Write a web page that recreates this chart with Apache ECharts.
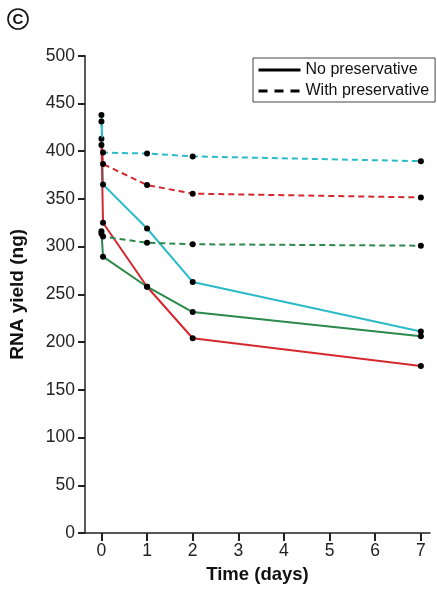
<!DOCTYPE html>
<html>
<head>
<meta charset="utf-8">
<script src="https://cdn.jsdelivr.net/npm/echarts@6/dist/echarts.min.js"></script>
<style>html,body{margin:0;padding:0;background:#fff}#c{width:437px;height:589px}</style>
</head>
<body>
<div id="c"></div>
<script>
// Time points (days); second point is ~1 hour
const times = [0, 0.035, 1, 2, 7];
const xTicks = [0, 1, 2, 3, 4, 5, 6, 7];
const cyanNoPres = [438, 365, 319, 263, 211];
const cyanWithPres = [431, 398.5, 397.5, 394.5, 389.5];
const redNoPres = [413, 325, 258, 204, 175];
const redWithPres = [406.5, 386.5, 364.5, 355.5, 351.5];
const greenNoPres = [316, 289.5, 258, 231.5, 206];
const greenWithPres = [313.5, 310.5, 304, 302.5, 301];
const legendNames = ['No preservative', 'With preservative'];

const FONT = '"Liberation Sans", Arial, Helvetica, sans-serif';
const toPairs = (vals) => vals.map((v, i) => [times[i], v]);

function mk(name, vals, color, dashed) {
  return {
    name: name, type: 'line', data: toPairs(vals),
    symbol: 'circle', symbolSize: 6, showSymbol: true,
    itemStyle: { color: '#000' },
    lineStyle: { color: color, width: 2, type: dashed ? [6, 4] : 'solid' },
    emphasis: { disabled: true }, animation: false, z: dashed ? 3 : 2
  };
}

const chart = echarts.init(document.getElementById('c'), null, { renderer: 'canvas' });
chart.setOption({
  animation: false,
  textStyle: { fontFamily: FONT },
  grid: { left: 83.5, right: 7, top: 55.7, bottom: 52.3, containLabel: false },
  legend: {
    data: legendNames.map((n, i) => ({ name: n, itemStyle: { opacity: 0 },
      lineStyle: { width: 3, color: '#000', type: i === 0 ? 'solid' : [9, 7] } })),
    orient: 'vertical', left: 253, top: 58,
    padding: [4, 6, 3, 4], itemGap: 5, itemWidth: 42, itemHeight: 14,
    borderColor: '#444', borderWidth: 1, backgroundColor: '#fff',
    textStyle: { fontSize: 16, color: '#111', fontFamily: FONT },
    selectedMode: false
  },
  xAxis: {
    type: 'value', min: -0.36, max: 7.2,
    name: 'Time (days)', nameLocation: 'middle', nameGap: 32,
    nameTextStyle: { fontSize: 18.5, fontWeight: 'bold', color: '#111', fontFamily: FONT },
    axisLine: { show: true, onZero: false, lineStyle: { color: '#222', width: 1.5 } },
    axisTick: { show: true, length: 8, customValues: xTicks, lineStyle: { color: '#222', width: 2 } },
    axisLabel: { customValues: xTicks, fontSize: 17.5, color: '#222', margin: 9, fontFamily: FONT },
    splitLine: { show: false }
  },
  yAxis: {
    type: 'value', min: 0, max: 500, interval: 50,
    name: 'RNA yield (ng)', nameLocation: 'middle', nameGap: 58,
    nameTextStyle: { fontSize: 19, fontWeight: 'bold', color: '#111', fontFamily: FONT },
    axisLine: { show: true, onZero: false, lineStyle: { color: '#222', width: 1.5 } },
    axisTick: { show: true, length: 7, lineStyle: { color: '#222', width: 2 } },
    axisLabel: { fontSize: 17.5, color: '#222', margin: 10, fontFamily: FONT },
    splitLine: { show: false }
  },
  graphic: [
    { type: 'circle', shape: { cx: 18, cy: 19, r: 10 }, style: { fill: '#fff', stroke: '#111', lineWidth: 1.6 } },
    { type: 'text', x: 18, y: 19.5, style: { text: 'C', align: 'center', verticalAlign: 'middle', font: 'bold 15px ' + FONT, fill: '#111' } }
  ],
  series: [
    { name: legendNames[0], type: 'line', data: [], symbol: 'none', lineStyle: { color: '#000', width: 3, type: 'solid' }, itemStyle: { color: '#000' } },
    { name: legendNames[1], type: 'line', data: [], symbol: 'none', lineStyle: { color: '#000', width: 3, type: [9, 7] }, itemStyle: { color: '#000' } },
    mk('cyanNo', cyanNoPres, '#2BBAC6', false),
    mk('cyanWith', cyanWithPres, '#2BBAC6', true),
    mk('redNo', redNoPres, '#D5282E', false),
    mk('redWith', redWithPres, '#D5282E', true),
    mk('greenNo', greenNoPres, '#2B8A4B', false),
    mk('greenWith', greenWithPres, '#2B8A4B', true)
  ]
});
</script>
</body>
</html>
